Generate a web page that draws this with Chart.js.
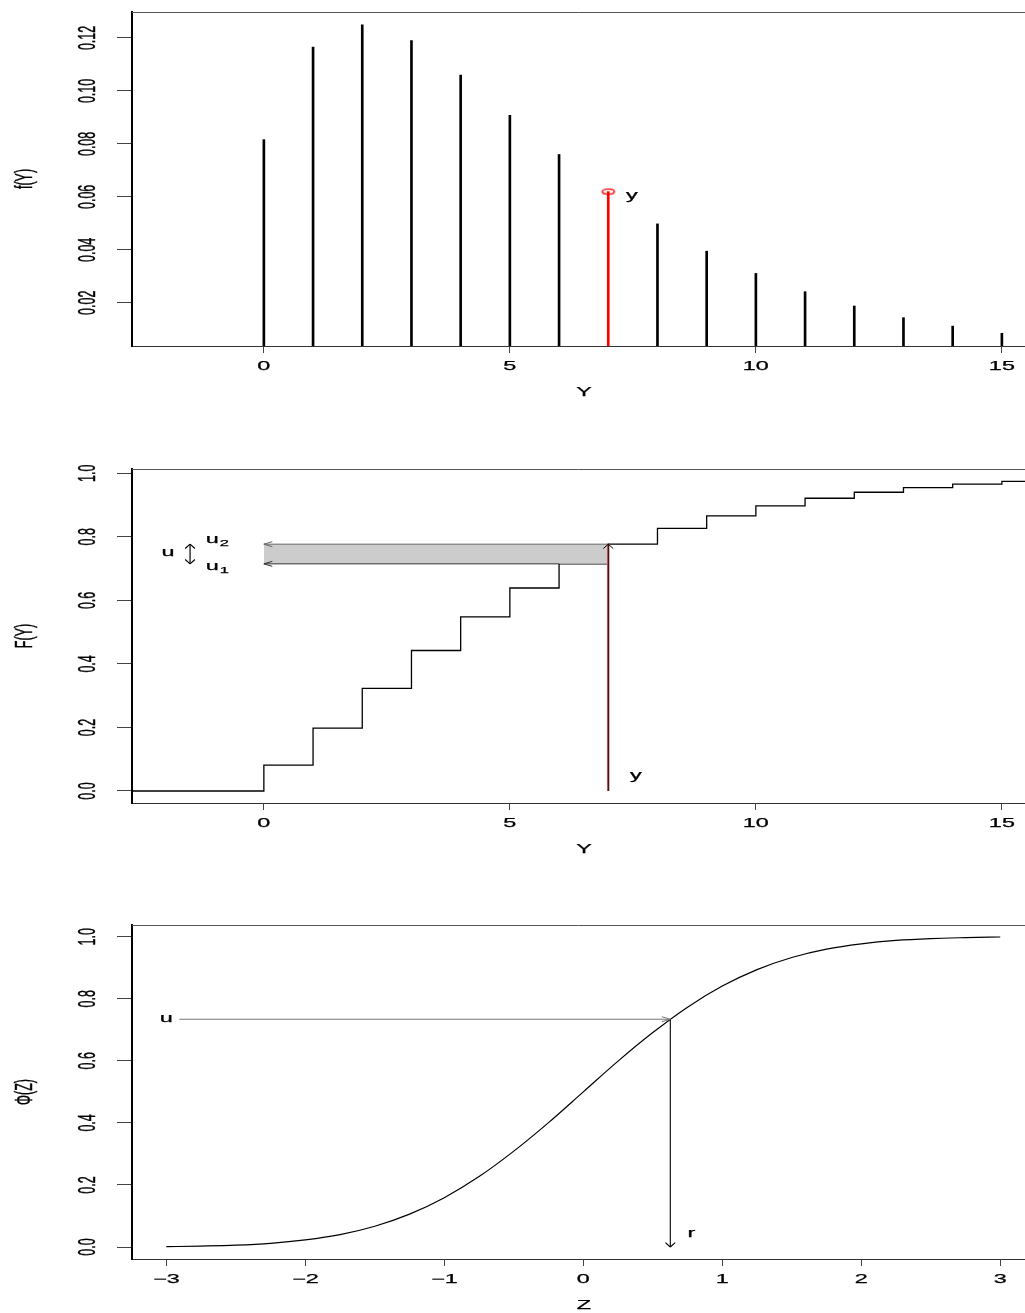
<!DOCTYPE html>
<html><head><meta charset="utf-8"><title>Discrete inverse transform: f(Y), F(Y), Φ(Z)</title>
<script src="https://cdn.jsdelivr.net/npm/chart.js@4.4.1/dist/chart.umd.min.js"></script>
<style>
html,body{margin:0;padding:0;background:#fff;overflow:hidden;width:1025px;height:1313px}
canvas{position:absolute;left:0;display:block}
</style></head><body>
<canvas id="p1" width="1025" height="457" style="top:0px"></canvas>
<canvas id="p2" width="1025" height="456" style="top:457px"></canvas>
<canvas id="p3" width="1025" height="400" style="top:913px"></canvas>
<script>
// ---------------- data ----------------
const yValues   = [0, 1, 2, 3, 4, 5, 6, 7, 8, 9, 10, 11, 12, 13, 14, 15];
const pmfValues = [0.0816, 0.1166, 0.1250, 0.1190, 0.1060, 0.0908, 0.0760, 0.0620,
                   0.0498, 0.0395, 0.0311, 0.0242, 0.0188, 0.0144, 0.0112, 0.0085];
const cdfValues = [0.0816, 0.1982, 0.3232, 0.4422, 0.5482, 0.6390, 0.7150, 0.7770,
                   0.8268, 0.8663, 0.8974, 0.9216, 0.9404, 0.9548, 0.9660, 0.9745];
const selectedY = 7;

const zValues   = [-3, -2.75, -2.5, -2.25, -2, -1.75, -1.5, -1.25, -1, -0.75, -0.5, -0.25, 0,
                   0.25, 0.5, 0.75, 1, 1.25, 1.5, 1.75, 2, 2.25, 2.5, 2.75, 3];
const phiValues = [0.001, 0.003, 0.006, 0.012, 0.023, 0.040, 0.067, 0.106, 0.159, 0.227, 0.309, 0.401, 0.500,
                   0.599, 0.691, 0.773, 0.841, 0.894, 0.933, 0.960, 0.977, 0.988, 0.994, 0.997, 0.999];
const uDrawn = 0.734;      // uniform draw u
const rDrawn = 0.626;      // r = Φ^-1(u)
const uArrowStartZ = -2.906;
const uBracketX = -1.5;    // x of the small double arrow in panel 2

// tick values and labels
const discreteTicks      = [0, 5, 10, 15];
const discreteTickLabels = ['0', '5', '10', '15'];
const pmfTicks           = [0.02, 0.04, 0.06, 0.08, 0.10, 0.12];
const pmfTickLabels      = ['0.02', '0.04', '0.06', '0.08', '0.10', '0.12'];
const probTicks          = [0, 0.2, 0.4, 0.6, 0.8, 1.0];
const probTickLabels     = ['0.0', '0.2', '0.4', '0.6', '0.8', '1.0'];
const zTicks             = [-3, -2, -1, 0, 1, 2, 3];
const zTickLabels        = ['\u22123', '\u22122', '\u22121', '0', '1', '2', '3'];

// axis ranges
const xRangeY = [-2.68, 15.47];
const yRangePmf = [0.0037, 0.1298];
const yRangeCdf = [-0.0378, 1.0136];
const xRangeZ = [-3.247, 3.178];
const yRangePhi = [-0.0386, 1.0377];

// ---------------- drawing helpers ----------------
const SX = 1.95, FS = 12, FSY = 12.5, FONT = '"Liberation Sans", Arial, Helvetica, sans-serif';
const PLOT_TOP = 12, PLOT_BOTTOM = 346, PLOT_LEFT = 132, TITLE_X = 584;

function rText(ctx, text, x, y, o) {
  o = o || {};
  const size = o.size || FS;
  ctx.save();
  ctx.translate(x, y);
  ctx.scale(SX, 1);
  if (o.rotate) ctx.rotate(-Math.PI / 2);
  ctx.font = size + 'px ' + FONT;
  ctx.fillStyle = o.color || '#000';
  ctx.strokeStyle = o.color || '#000';
  ctx.lineWidth = 0.25;
  ctx.textAlign = o.align || 'center';
  ctx.textBaseline = 'alphabetic';
  const by = (o.mid == null ? 0.358 : o.mid) * size + (o.dy || 0);
  ctx.fillText(text, 0, by);
  ctx.strokeText(text, 0, by);
  const w = ctx.measureText(text).width * SX;
  ctx.restore();
  return w;
}

function arrowHead(ctx, tip, from, color, width) {
  let dx = (tip.x - from.x) / SX, dy = tip.y - from.y;
  const len = Math.hypot(dx, dy) || 1; dx /= len; dy /= len;
  const L = 5, ang = Math.PI / 6;
  ctx.save(); ctx.strokeStyle = color; ctx.lineWidth = width; ctx.beginPath();
  [ang, -ang].forEach(a => {
    const cx = dx * Math.cos(a) - dy * Math.sin(a), cy = dx * Math.sin(a) + dy * Math.cos(a);
    ctx.moveTo(tip.x - L * cx * SX, tip.y - L * cy);
    ctx.lineTo(tip.x, tip.y);
  });
  ctx.stroke(); ctx.restore();
}

const rPlot = {
  id: 'rPlot',
  afterDraw(chart, args, o) {
    const ctx = chart.ctx, a = chart.chartArea, xs = chart.scales.x, ys = chart.scales.y;
    // top of the box
    ctx.save(); ctx.strokeStyle = '#555'; ctx.lineWidth = 1; ctx.beginPath();
    ctx.moveTo(a.left, Math.round(a.top) + 0.5); ctx.lineTo(a.right, Math.round(a.top) + 0.5);
    ctx.stroke(); ctx.restore();
    // arrow heads of datasets flagged as arrows
    chart.data.datasets.forEach((ds, i) => {
      if (!ds.arrow) return;
      const pts = chart.getDatasetMeta(i).data, n = pts.length;
      const col = ds.headColor || ds.borderColor, w = ds.headWidth || ds.borderWidth;
      if (ds.arrow === 'end' || ds.arrow === 'both') arrowHead(ctx, pts[n - 1], pts[n - 2], col, w);
      if (ds.arrow === 'both') arrowHead(ctx, pts[0], pts[1], col, w);
    });
    // tick labels & titles
    xs.ticks.forEach((t, i) => rText(ctx, o.xTickLabels[i], xs.getPixelForValue(t.value), a.bottom + 20));
    ys.ticks.forEach((t, i) => rText(ctx, o.yTickLabels[i], a.left - 46, ys.getPixelForValue(t.value), {rotate: true, size: FSY}));
    rText(ctx, o.xTitle, TITLE_X, a.bottom + 46, {mid: 0.36});
    rText(ctx, o.yTitle, a.left - 106.5, (a.top + a.bottom) / 2, {rotate: true, mid: 0.26, size: FSY});
    // in-plot notes
    (o.notes || []).forEach(n => {
      const px = xs.getPixelForValue(n.x), py = ys.getPixelForValue(n.y);
      const w = rText(ctx, n.text, px, py, {mid: n.mid});
      if (n.sub) rText(ctx, n.sub, px + w / 2 + 1, py, {size: 8.5, align: 'left', mid: 0, dy: n.mid * FS + 3});
    });
  }
};

function xAxis(range, ticks, canvasH) {
  return {
    type: 'linear', position: 'bottom', min: range[0], max: range[1], offset: false,
    afterBuildTicks: s => { s.ticks = ticks.map(v => ({value: v})); },
    ticks: {display: false},
    grid: {offset: false, drawOnChartArea: false, drawTicks: true, tickLength: 7, color: '#444', lineWidth: 1},
    border: {display: true, color: '#333', width: 1},
    afterFit: s => { s.height = canvasH - PLOT_BOTTOM; s.paddingLeft = 0; s.paddingRight = 0; s.paddingTop = 0; s.paddingBottom = 0; }
  };
}
function yAxis(range, ticks) {
  return {
    type: 'linear', position: 'left', min: range[0], max: range[1],
    afterBuildTicks: s => { s.ticks = ticks.map(v => ({value: v})); },
    ticks: {display: false},
    grid: {offset: false, drawOnChartArea: false, drawTicks: true, tickLength: 15, color: '#444', lineWidth: 1},
    border: {display: true, color: '#000', width: 2},
    afterFit: s => { s.width = PLOT_LEFT; s.paddingTop = 0; s.paddingBottom = 0; s.paddingLeft = 0; s.paddingRight = 0; }
  };
}
function baseOptions(canvasH, xr, xt, yr, yt, labels) {
  return {
    responsive: false, animation: false, devicePixelRatio: 1, events: [],
    layout: {autoPadding: false, padding: {top: PLOT_TOP, left: 0, right: 0, bottom: 0}},
    scales: {x: xAxis(xr, xt, canvasH), y: yAxis(yr, yt)},
    plugins: {legend: {display: false}, tooltip: {enabled: false}, rPlot: labels}
  };
}
function ellipseMarker() {
  const c = document.createElement('canvas'); c.width = 16; c.height = 8;
  const g = c.getContext('2d'); g.strokeStyle = '#ff0000'; g.lineWidth = 1.4;
  g.beginPath(); g.ellipse(8, 4, 6, 2.6, 0, 0, 2 * Math.PI); g.stroke();
  return c;
}
const lineDs = (data, color, width, extra) => Object.assign({
  type: 'line', data, borderColor: color, borderWidth: width, pointRadius: 0, fill: false, tension: 0
}, extra || {});

// ---------------- panel 1: f(Y) ----------------
new Chart(document.getElementById('p1'), {
  type: 'bar',
  data: {datasets: [
    {type: 'line', data: [{x: selectedY, y: pmfValues[yValues.indexOf(selectedY)]}], showLine: false,
     pointStyle: ellipseMarker(), pointRadius: 6},
    {type: 'bar', data: yValues.map((v, i) => ({x: v, y: pmfValues[i]})),
     backgroundColor: yValues.map(v => v === selectedY ? '#ff0000' : '#000000'),
     barThickness: 2, borderWidth: 0}
  ]},
  options: baseOptions(457, xRangeY, discreteTicks, yRangePmf, pmfTicks, {
    xTickLabels: discreteTickLabels, yTickLabels: pmfTickLabels, xTitle: 'Y', yTitle: 'f(Y)',
    notes: [{x: 7.48, y: 0.0600, text: 'y', mid: 0.155}]
  }),
  plugins: [rPlot]
});

// ---------------- panel 2: F(Y) ----------------
const u1 = cdfValues[yValues.indexOf(selectedY) - 1];
const u2 = cdfValues[yValues.indexOf(selectedY)];
const stepData = [{x: xRangeY[0], y: 0}]
  .concat(yValues.map((v, i) => ({x: v, y: cdfValues[i]})))
  .concat([{x: xRangeY[1], y: cdfValues[cdfValues.length - 1]}]);
new Chart(document.getElementById('p2'), {
  type: 'line',
  data: {datasets: [
    lineDs([{x: uBracketX, y: u1}, {x: uBracketX, y: u2}], '#000', 1.2, {arrow: 'both'}),
    lineDs([{x: selectedY, y: 0}, {x: selectedY, y: u2}], '#000', 1, {arrow: 'end'}),
    lineDs([{x: selectedY, y: 0}, {x: selectedY, y: u2}], '#e07070', 2.6),
    lineDs([{x: selectedY, y: u2}, {x: 0, y: u2}], '#666', 1, {arrow: 'end'}),
    lineDs([{x: selectedY - 1, y: u1}, {x: 0, y: u1}], '#333', 1, {arrow: 'end'}),
    lineDs([{x: 0, y: u1}, {x: selectedY, y: u1}], 'rgba(0,0,0,0)', 0, {fill: 6, backgroundColor: '#cccccc'}),
    lineDs([{x: 0, y: u2}, {x: selectedY, y: u2}], 'rgba(0,0,0,0)', 0),
    lineDs(stepData, '#000', 1.3, {stepped: 'before'})
  ]},
  options: baseOptions(456, xRangeY, discreteTicks, yRangeCdf, probTicks, {
    xTickLabels: discreteTickLabels, yTickLabels: probTickLabels, xTitle: 'Y', yTitle: 'F(Y)',
    notes: [
      {x: 7.56, y: 0.0425, text: 'y', mid: 0.155},
      {x: -1.95, y: 0.749, text: 'u', mid: 0.26},
      {x: -1.05, y: 0.790, text: 'u', sub: '2', mid: 0.26},
      {x: -1.05, y: 0.705, text: 'u', sub: '1', mid: 0.26}
    ]
  }),
  plugins: [rPlot]
});

// ---------------- panel 3: Φ(Z) ----------------
new Chart(document.getElementById('p3'), {
  type: 'line',
  data: {datasets: [
    lineDs([{x: rDrawn, y: uDrawn}, {x: rDrawn, y: 0}], '#000', 1.1, {arrow: 'end'}),
    lineDs([{x: uArrowStartZ, y: uDrawn}, {x: rDrawn, y: uDrawn}], '#777', 1, {arrow: 'end'}),
    lineDs(zValues.map((z, i) => ({x: z, y: phiValues[i]})), '#000', 1.2, {cubicInterpolationMode: 'monotone'})
  ]},
  options: baseOptions(400, xRangeZ, zTicks, yRangePhi, probTicks, {
    xTickLabels: zTickLabels, yTickLabels: probTickLabels, xTitle: 'Z', yTitle: '\u03A6(Z)',
    notes: [
      {x: -3.0, y: 0.734, text: 'u', mid: 0.26},
      {x: 0.778, y: 0.041, text: 'r', mid: 0.26}
    ]
  }),
  plugins: [rPlot]
});
</script>
</body></html>
